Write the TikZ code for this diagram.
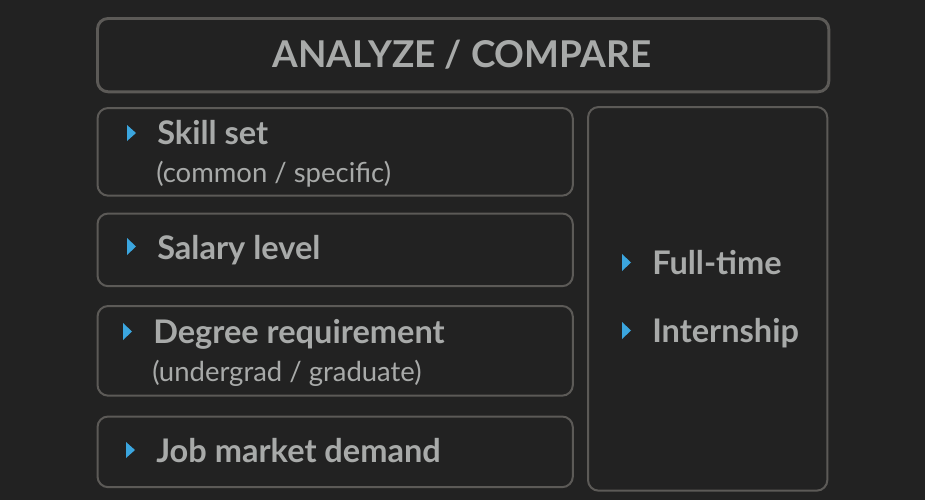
\documentclass[tikz,border=0pt]{standalone}
\usepackage{fontspec}
\setmainfont{Lato}
\begin{document}
\begin{tikzpicture}[x=0.75pt,y=-0.75pt,
  box/.style={draw=boxgray,line width=1.5pt,rounded corners=8pt,inner sep=0,anchor=north west},
  maintxt/.style={anchor=base west,inner sep=0,text=txtgray,font=\bfseries\fontsize{24.4}{28}\selectfont},
  subtxt/.style={anchor=base west,inner sep=0,text=txtgray,font=\fontsize{20.6}{24}\selectfont},
  bul/.style={fill=bulblue,draw=none}]
\definecolor{bg}{HTML}{222222}
\definecolor{boxgray}{HTML}{5C5A57}
\definecolor{txtgray}{HTML}{A8AAA9}
\definecolor{bulblue}{HTML}{3BA6DF}
\fill[bg] (0,0) rectangle (925,500);
\useasboundingbox (0,0) rectangle (925,500);
% title
\node[box,line width=2.2pt,minimum width=548.5pt,minimum height=55pt] (title) at (96,17) {};
\node[anchor=base,inner sep=0,text=txtgray,font=\bfseries\fontsize{27.7}{32}\selectfont] (tt) at (462,67) {ANALYZE / COMPARE};
% left boxes
\node[box,minimum width=356.5pt,minimum height=65.75pt] (b1) at (96.5,107) {};
\node[box,minimum width=356.5pt,minimum height=54.5pt] (b2) at (96.5,212.5) {};
\node[box,minimum width=356.5pt,minimum height=67.25pt] (b3) at (96.5,305) {};
\node[box,minimum width=356.5pt,minimum height=53pt] (b4) at (96.5,415.5) {};
% right box
\node[box,minimum width=179.5pt,minimum height=287.75pt] (b5) at (587,106) {};
% texts
\node[maintxt] (t1) at (157,144) {Skill set};
\node[subtxt] (s1) at (156,182) {(common / specific)};
\node[maintxt] (t2) at (157,259) {Salary level};
\node[maintxt] (t3) at (153,343) {Degree requirement};
\node[subtxt] (s3) at (152,381) {(undergrad / graduate)};
\node[maintxt] (t4) at (156,462) {Job market demand};
\node[maintxt] (t5) at (652,274) {Full-time};
\node[maintxt] (t6) at (652,342) {Internship};
% bullets
\fill[bul] (127,125) -- (136,133) -- (127,141) -- cycle;
\fill[bul] (127,238) -- (136,246.5) -- (127,255) -- cycle;
\fill[bul] (123,323) -- (132,331.5) -- (123,340) -- cycle;
\fill[bul] (126,442) -- (135,450) -- (126,458) -- cycle;
\fill[bul] (622,254) -- (631,262.5) -- (622,271) -- cycle;
\fill[bul] (622,322) -- (631,330.5) -- (622,339) -- cycle;
\end{tikzpicture}
\end{document}
